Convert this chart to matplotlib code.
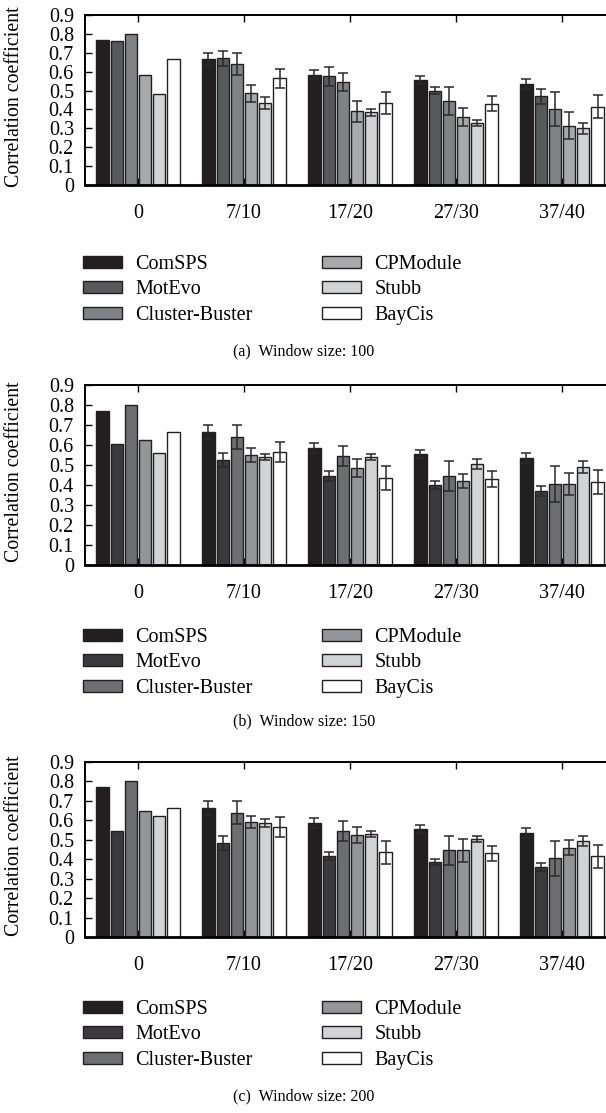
import numpy as np
import matplotlib
matplotlib.use('Agg')
import matplotlib.pyplot as plt
from matplotlib.patches import Patch

plt.rcParams['font.family'] = ['Liberation Serif', 'DejaVu Serif']

# Datos
methods = ['ComSPS', 'MotEvo', 'Cluster-Buster', 'CPModule', 'Stubb', 'BayCis']
groups = ['0', '7/10', '17/20', '27/30', '37/40']
captions = ['(a)  Window size: 100', '(b)  Window size: 150', '(c)  Window size: 200']

# Ventana 100: una fila por metodo, una columna por grupo
mean_100 = [[0.77, 0.665, 0.585, 0.555, 0.535],
            [0.76, 0.67, 0.575, 0.50, 0.47],
            [0.80, 0.64, 0.545, 0.445, 0.405],
            [0.58, 0.485, 0.39, 0.36, 0.315],
            [0.48, 0.435, 0.385, 0.33, 0.30],
            [0.665, 0.565, 0.435, 0.43, 0.415]]
err_100 = [[0, 0.035, 0.025, 0.02, 0.025],
           [0, 0.04, 0.05, 0.02, 0.04],
           [0, 0.06, 0.05, 0.075, 0.09],
           [0, 0.045, 0.055, 0.05, 0.07],
           [0, 0.03, 0.02, 0.015, 0.03],
           [0, 0.05, 0.06, 0.04, 0.06]]

# Ventana 150
mean_150 = [[0.77, 0.665, 0.585, 0.555, 0.535],
            [0.605, 0.525, 0.445, 0.40, 0.37],
            [0.80, 0.64, 0.545, 0.445, 0.405],
            [0.625, 0.55, 0.485, 0.42, 0.405],
            [0.56, 0.54, 0.54, 0.505, 0.49],
            [0.665, 0.565, 0.435, 0.43, 0.415]]
err_150 = [[0, 0.035, 0.025, 0.02, 0.025],
           [0, 0.035, 0.025, 0.02, 0.025],
           [0, 0.06, 0.05, 0.075, 0.09],
           [0, 0.035, 0.045, 0.035, 0.055],
           [0, 0.015, 0.015, 0.025, 0.03],
           [0, 0.05, 0.06, 0.04, 0.06]]

# Ventana 200
mean_200 = [[0.77, 0.665, 0.585, 0.555, 0.535],
            [0.545, 0.485, 0.415, 0.385, 0.36],
            [0.80, 0.64, 0.545, 0.445, 0.405],
            [0.65, 0.59, 0.525, 0.445, 0.46],
            [0.62, 0.585, 0.53, 0.505, 0.495],
            [0.665, 0.565, 0.435, 0.43, 0.415]]
err_200 = [[0, 0.035, 0.025, 0.02, 0.025],
           [0, 0.035, 0.02, 0.015, 0.02],
           [0, 0.06, 0.05, 0.075, 0.09],
           [0, 0.03, 0.04, 0.06, 0.04],
           [0, 0.02, 0.015, 0.015, 0.025],
           [0, 0.05, 0.06, 0.04, 0.06]]

colors_a = ['#231f20', '#58595b', '#808285', '#a7a9ac', '#d1d3d4', '#ffffff']
colors_bc = ['#231f20', '#3a3a3c', '#6d6e71', '#939598', '#d1d3d4', '#ffffff']

panels = [(mean_100, err_100, colors_a), (mean_150, err_150, colors_bc), (mean_200, err_200, colors_bc)]

W, H = 606, 1113
fig = plt.figure(figsize=(W / 100, H / 100), dpi=100)

# posiciones en pixeles: (arriba del eje, abajo del eje, fila de leyenda, titulo)
tops = [15, 385, 762]
bottoms = [185, 565, 937]
legend_tops = [255, 628, 1000]
caption_y = [351, 721, 1096]

x = np.arange(len(groups))
slot = 0.134
width = 0.116

for p, (means, errs, cols) in enumerate(panels):
    ax = fig.add_axes([85 / W, 1 - bottoms[p] / H, 1 - 85 / W, (bottoms[p] - tops[p]) / H])
    for i, m in enumerate(methods):
        xi = x + (i - 2.5) * slot
        ax.bar(xi, means[i], width, color=cols[i], edgecolor='#231f20', linewidth=1.0, zorder=2)
        e = np.array(errs[i])
        mk = e > 0
        ax.errorbar(xi[mk], np.array(means[i])[mk], yerr=e[mk], fmt='none', ecolor='#2a2a2a',
                    elinewidth=1.1, capsize=3.6, capthick=1.1, zorder=3)

    ax.set_xlim(-0.5, 4.415)
    ax.set_ylim(0, 0.9)
    ax.set_yticks(np.arange(0, 0.91, 0.1))
    ax.set_yticklabels(['0'] + ['%.1f' % v for v in np.arange(0.1, 0.91, 0.1)])
    ax.set_xticks(x)
    ax.set_xticklabels(groups)
    ax.tick_params(axis='y', direction='in', length=5, width=1, pad=8, labelsize=14.5, right=False)
    ax.tick_params(axis='x', direction='in', length=5, width=1, pad=14, labelsize=14.5, top=True)
    ax.spines['right'].set_visible(False)
    ax.spines['top'].set_linewidth(1.4)
    ax.spines['left'].set_linewidth(1.4)
    ax.spines['bottom'].set_linewidth(2.0)
    ax.set_ylabel('Correlation coefficient', fontsize=14.3, va='center')
    ax.yaxis.set_label_coords(-70 / 521, 0.52)

    handles = [Patch(facecolor=cols[i], edgecolor='#231f20', linewidth=1.0) for i in range(6)]
    for c, x0 in enumerate([83, 322]):
        fig.legend(handles[3 * c:3 * c + 3], methods[3 * c:3 * c + 3], loc='upper left',
                   bbox_to_anchor=(x0 / W, 1 - legend_tops[p] / H),
                   frameon=False, fontsize=14.5, handlelength=1.94, handleheight=0.55,
                   handletextpad=0.65, labelspacing=0.32, borderaxespad=0, borderpad=0)

    fig.text(304 / W, 1 - caption_y[p] / H, captions[p], ha='center', va='center', fontsize=11.5)

fig.savefig('out.png', dpi=100)
